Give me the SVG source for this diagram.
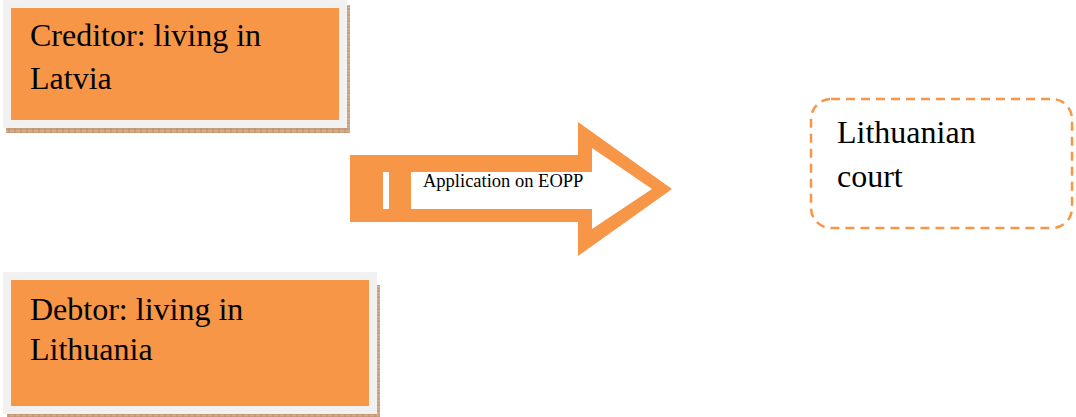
<svg xmlns="http://www.w3.org/2000/svg" width="1076" height="417" viewBox="0 0 1076 417">
  <defs>
    <!-- speckled tan texture used for the drop shadows -->
    <pattern id="shadowTex" width="6" height="6" patternUnits="userSpaceOnUse">
      <rect width="6" height="6" fill="#D2AE8C"/>
      <path d="M0 0H6M0 3H6M3 0V6" stroke="#B9875E" stroke-width="0.8"/>
    </pattern>
    <style>
      .shadow { fill: url(#shadowTex); }
      .frame { fill: #F1F1F1; }
      .box { fill: #F79646; }
      .label { font-family: "Liberation Serif", "Times New Roman", serif; font-size: 32px; fill: #000; }
      .small { font-family: "Liberation Serif", "Times New Roman", serif; font-size: 18.5px; fill: #000; }
      .court { fill: #fff; stroke: #F79646; stroke-width: 2.5; stroke-dasharray: 9 6; }
    </style>
  </defs>

  <rect width="1076" height="417" fill="#fff"/>

  <!-- Creditor -->
  <g id="creditor">
    <rect class="shadow" x="6" y="5" width="344" height="128"/>
    <rect class="frame" x="3" y="0" width="344" height="128"/>
    <rect class="box" x="11" y="8" width="328" height="112"/>
    <text class="label" x="30" y="46">Creditor: living in</text>
    <text class="label" x="30" y="89">Latvia</text>
  </g>

  <!-- Debtor -->
  <g id="debtor">
    <rect class="shadow" x="7" y="285" width="373" height="132"/>
    <rect class="frame" x="3" y="272" width="374" height="142"/>
    <rect class="box" x="11" y="280" width="358" height="126"/>
    <text class="label" x="30" y="320">Debtor: living in</text>
    <text class="label" x="30" y="360">Lithuania</text>
  </g>

  <!-- Lithuanian court -->
  <g id="court">
    <rect class="court" x="811" y="99" width="261" height="129" rx="20" ry="20"/>
    <text class="label" x="837" y="143">Lithuanian</text>
    <text class="label" x="837" y="187">court</text>
  </g>

  <!-- Block arrow carrying the application -->
  <g id="connectors">
    <g id="application-arrow">
      <path fill="#F79646" fill-rule="evenodd"
            d="M350 155H578V122L672 189L578 256V222H350Z
               M411 172V209H592V229L652 189L592 148V172Z"/>
      <rect x="383" y="172" width="6" height="37" fill="#fff"/>
      <text class="small" x="423" y="187">Application on EOPP</text>
    </g>
  </g>
</svg>
